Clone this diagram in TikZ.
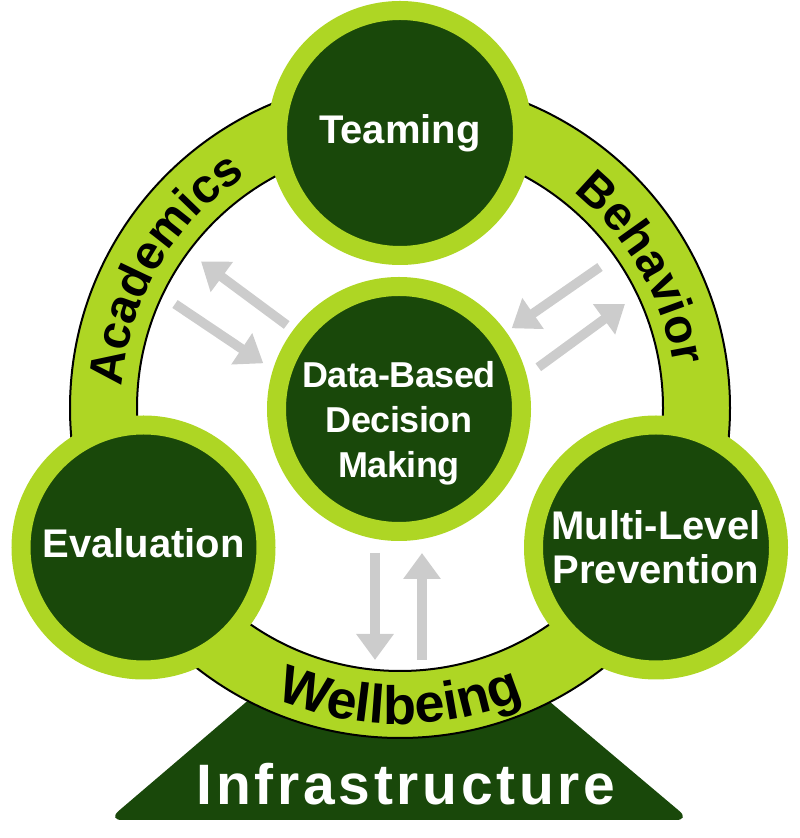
\documentclass[tikz,border=0pt]{standalone}
\usepackage{fontspec}
\setmainfont{Liberation Sans}
\newfontfamily\infrafont[LetterSpace=6.5]{Liberation Sans}
\newfontfamily\tightfont[LetterSpace=-1.5]{Liberation Sans}
\usetikzlibrary{arrows.meta,decorations.text}
\definecolor{lightg}{RGB}{174,214,36}
\definecolor{darkg}{RGB}{25,72,10}
\definecolor{arrowgray}{RGB}{204,204,204}
\tikzset{
  disc/.style={circle, draw=lightg, line width=19pt, fill=darkg, minimum size=245pt, inner sep=0pt,
    text=white, align=center, font=\bfseries\fontsize{40}{44}\selectfont},
  lbl/.style={text=white, align=center, inner sep=0pt},
  grayarrow/.style={draw=arrowgray, line width=9.5pt, -{Triangle[length=26pt,width=36pt,fill=arrowgray]}},
  ringlbl/.style={decorate, decoration={text along path, text align=center, text color=black}}
}
\begin{document}
\begin{tikzpicture}[x=1pt,y=1pt]
\useasboundingbox (0,0) rectangle (800,838);
% infrastructure base
\fill[darkg, rounded corners=14pt] (272,158) -- (108,18) -- (690,18) -- (524,158) -- cycle;
\node[lbl, font=\infrafont\bfseries\fontsize{57}{60}\selectfont] (infra) at (406,54) {Infrastructure};
% ring
\coordinate (C) at (400,430);
\draw[line width=2pt, fill=lightg, even odd rule] (C) circle [radius=330pt] (C) circle [radius=263pt];
% circles
\node[disc] (team) at (400,705) {Teaming};
\node[disc, text depth=8pt] (eval) at (143.5,290.5) {Evaluation};
\node[disc] (multi) at (656,290.5) {Multi-Level\\Prevention};
\node[disc] (dbdm) at (399,429) {};
\node[lbl, font=\tightfont\bfseries\fontsize{36}{45}\selectfont] (dbdmT) at (399,415) {Data-Based\\Decision\\Making};
% ring labels
\path[ringlbl, decoration={text={|\bfseries\fontsize{48}{48}\selectfont|Academics}}]
  (C) ++(199.6:279pt) arc[start angle=199.6, end angle=99.6, radius=279pt];
\path[ringlbl, decoration={text={|\bfseries\fontsize{48}{48}\selectfont|Behavior}}]
  (C) ++(80:277pt) arc[start angle=80, end angle=-20, radius=277pt];
\path[ringlbl, decoration={text={|\bfseries\fontsize{54}{54}\selectfont|Wellbeing}}]
  (C) ++(220:316pt) arc[start angle=220, end angle=320, radius=316pt];
% arrows
\coordinate (a1s) at (286.7,513);
\coordinate (a1e) at (201,576.5);
\coordinate (a2s) at (175,534);
\coordinate (a2e) at (263.3,474.7);
\coordinate (a3s) at (600,571);
\coordinate (a3e) at (511.7,509.7);
\coordinate (a4s) at (538.3,470.7);
\coordinate (a4e) at (625,534);
\coordinate (a5s) at (375,285);
\coordinate (a5e) at (375,178);
\coordinate (a6s) at (422,178);
\coordinate (a6e) at (422,285);
\draw[grayarrow] (a1s) -- (a1e);
\draw[grayarrow] (a2s) -- (a2e);
\draw[grayarrow] (a3s) -- (a3e);
\draw[grayarrow] (a4s) -- (a4e);
\draw[grayarrow] (a5s) -- (a5e);
\draw[grayarrow] (a6s) -- (a6e);
\end{tikzpicture}
\end{document}
